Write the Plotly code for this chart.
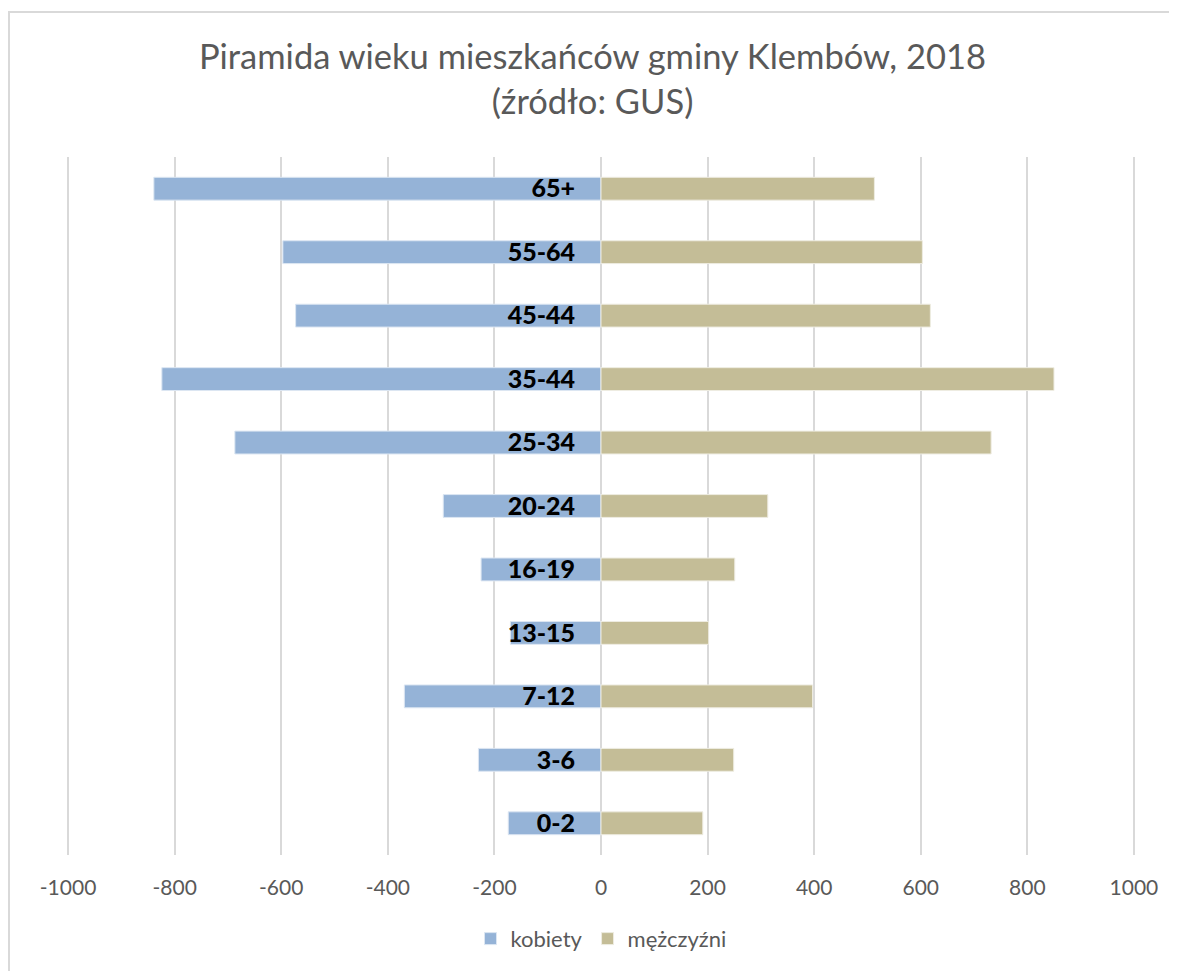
import plotly.graph_objects as go

categories = ["0-2", "3-6", "7-12", "13-15", "16-19", "20-24", "25-34", "35-44", "45-44", "55-64", "65+"]
kobiety = [-174, -230, -369, -170, -225, -296, -687, -824, -573, -597, -839]
mezczyzni = [191, 249, 397, 202, 251, 313, 732, 850, 618, 603, 513]
x_ticks = [-1000, -800, -600, -400, -200, 0, 200, 400, 600, 800, 1000]

font_family = "Lato, 'Open Sans', sans-serif"

W, H = 1169, 963
L, R, T, B = 59, 42, 149, 116
PW, PH = W - L - R, H - T - B

fig = go.Figure()
fig.add_trace(go.Bar(
    y=categories, x=kobiety, orientation="h", name="kobiety",
    marker=dict(color="#95B3D7", line=dict(color="#DCE6F2", width=1)),
    width=0.36,
))
fig.add_trace(go.Bar(
    y=categories, x=mezczyzni, orientation="h", name="mężczyźni",
    marker=dict(color="#C4BD97", line=dict(color="#EEECE1", width=1)),
    width=0.36,
))

fig.update_layout(
    width=W, height=H,
    margin=dict(l=L, r=R, t=T, b=B, autoexpand=False),
    paper_bgcolor="white", plot_bgcolor="white",
    barmode="overlay",
    font=dict(family=font_family, color="#595959"),
    title=dict(
        text="Piramida wieku mieszkańców gminy Klembów, 2018<br>(źródło: GUS)",
        x=0.5, xanchor="center", y=1 - 61 / H, yanchor="top",
        font=dict(size=34.5, color="#595959", family=font_family),
        automargin=False,
    ),
    xaxis=dict(
        range=[-1002, 1002], tickvals=x_ticks,
        ticktext=[str(v) for v in x_ticks],
        showgrid=True, gridcolor="#D9D9D9", gridwidth=1.5,
        zeroline=True, zerolinecolor="#D9D9D9", zerolinewidth=1.5,
        showline=False, ticks="",
        tickfont=dict(size=21, color="#595959"),
        ticklabelstandoff=18,
        fixedrange=True, automargin=False,
    ),
    yaxis=dict(
        categoryorder="array", categoryarray=categories,
        anchor="free", position=0.5,
        showgrid=False, zeroline=False, showline=False, ticks="",
        tickfont=dict(size=25, color="black", family="Lato Black, Lato, sans-serif", weight="bold"),
        ticklabelstandoff=26, automargin=False,
    ),
    legend=dict(
        orientation="h", x=0.5, xanchor="center", y=-0.09, yanchor="top",
        font=dict(size=22, color="#595959"),
        itemwidth=30, traceorder="normal",
    ),
    showlegend=True,
    shapes=[dict(
        type="rect", xref="paper", yref="paper",
        x0=(1 - L) / PW, x1=1.2, y0=-0.3, y1=(H - B - 4) / PH,
        line=dict(color="#D9D9D9", width=2), fillcolor="rgba(0,0,0,0)", layer="below",
    )],
)

fig.write_html("out.html")
